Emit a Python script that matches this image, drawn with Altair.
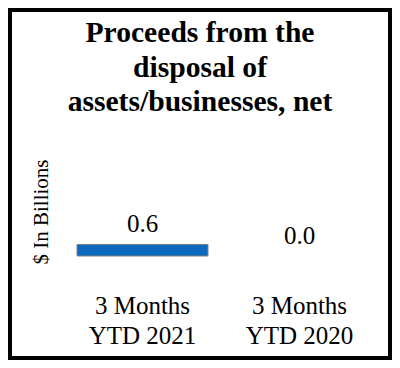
import altair as alt
import pandas as pd

# Data
categories = ["3 Months|YTD 2021", "3 Months|YTD 2020"]
values = [0.6, 0.0]
title_lines = ["Proceeds from the", "disposal of", "assets/businesses, net"]
y_title = "$ In Billions"

df = pd.DataFrame({"cat": categories, "val": values})

FONT = "Liberation Serif"
PLOT_W = 314
PLOT_H = 126
PAD_L, PAD_T = 56, 122
TOTAL_W, TOTAL_H = 384, 352

x_enc = alt.X(
    "cat:N",
    sort=categories,
    scale=alt.Scale(paddingInner=0.166, paddingOuter=0.083),
    axis=alt.Axis(
        title=None, ticks=False, domain=False, grid=False, labelAngle=0,
        labelExpr="split(datum.value, '|')", labelFont=FONT, labelFontSize=25,
        labelColor="black", labelPadding=37, labelLineHeight=30,
        labelBaseline="top",
    ),
)
y_scale = alt.Scale(domain=[0, 6.5625], nice=False, zero=True)
y_enc = alt.Y(
    "val:Q",
    scale=y_scale,
    axis=alt.Axis(
        title=y_title, labels=False, ticks=False, domain=False, grid=False,
        titleFont=FONT, titleFontSize=21, titleFontWeight="normal",
        titleColor="black", titleAngle=270, titleX=-16.5, titleY=81.5,
        titleAlign="center", titleBaseline="alphabetic",
    ),
)

bars = alt.Chart(df).mark_bar(strokeWidth=1).encode(
    x=x_enc, y=y_enc,
    color=alt.value("#0c6abe"),
    stroke=alt.condition("datum.val > 0", alt.value("#808080"), alt.value("transparent")),
)

labels = alt.Chart(df).mark_text(
    font=FONT, fontSize=25, color="black", baseline="alphabetic", dy=-12.5
).encode(x=alt.X("cat:N", sort=categories), y=alt.Y("val:Q"), text=alt.Text("val:Q", format=".1f"))

frame = alt.Chart(pd.DataFrame({"a": [0]})).mark_rect(
    fill=None, stroke="black", strokeWidth=4
).encode(
    x=alt.value(-PAD_L + 2), x2=alt.value(TOTAL_W - PAD_L - 2),
    y=alt.value(-PAD_T + 2), y2=alt.value(TOTAL_H - PAD_T - 2),
)

chart = alt.layer(bars, labels, frame).properties(
    width=PLOT_W,
    height=PLOT_H,
    background="white",
    autosize=alt.AutoSizeParams(type="none"),
    padding={"left": PAD_L, "top": PAD_T, "right": TOTAL_W - PAD_L - PLOT_W, "bottom": TOTAL_H - PAD_T - PLOT_H},
    title=alt.TitleParams(
        text=title_lines, font=FONT, fontSize=29.6, fontWeight="bold", color="black",
        lineHeight=34.5, anchor="middle", dx=-21, offset=0, dy=110,
    ),
).configure_view(strokeWidth=0, stroke="transparent").configure_axis(
    titleFont=FONT, labelFont=FONT
)

chart.save("out.html", embed_options={"renderer": "svg", "actions": False})
